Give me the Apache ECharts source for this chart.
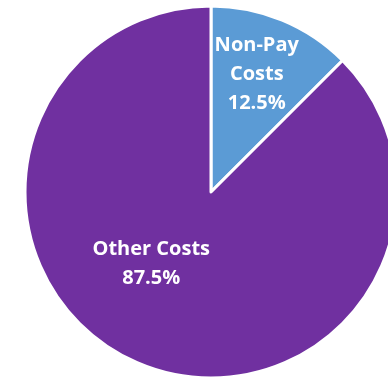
<!DOCTYPE html>
<html>
<head>
<meta charset="utf-8">
<script src="https://cdn.jsdelivr.net/npm/echarts@6/dist/echarts.min.js"></script>
<style>
  html, body { margin: 0; padding: 0; background: #fff; }
  #chart { width: 388px; height: 381px; }
</style>
</head>
<body>
<div id="chart"></div>
<script>
// cost split
var categories = ['Non-Pay\nCosts', 'Other Costs'];
var shares = [12.5, 87.5];
var sliceColors = ['#5b9bd5', '#7030a0'];
// nudges for the inside labels, per slice
var labelShift = [[9, -29], [-23, -17]];

var dom = document.getElementById('chart');
var chart = echarts.init(dom);

var pieData = categories.map(function (name, i) {
    return { name: name, value: shares[i], itemStyle: { color: sliceColors[i] } };
});

var option = {
    animation: false,
    series: {
        type: 'pie',
        center: [211, 192],
        radius: 186,
        startAngle: 90,
        clockwise: true,
        data: pieData,
        itemStyle: {
            borderColor: '#ffffff',
            borderWidth: 3
        },
        label: {
            position: 'inside',
            color: '#ffffff',
            fontFamily: 'Open Sans',
            fontWeight: 'bold',
            fontSize: 20,
            lineHeight: 29,
            formatter: function (p) {
                return p.name + '\n' + p.value.toFixed(1) + '%';
            }
        },
        labelLine: { show: false },
        labelLayout: function (params) {
            var s = labelShift[params.dataIndex];
            return { dx: s[0], dy: s[1] };
        }
    }
};
chart.setOption(option);
window.addEventListener('resize', function () {
    chart.resize();
});
</script>
</body>
</html>
